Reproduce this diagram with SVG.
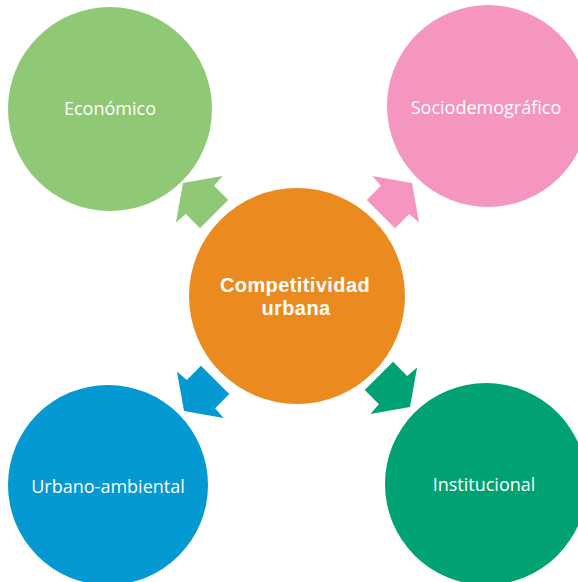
<svg xmlns="http://www.w3.org/2000/svg" width="578" height="582" viewBox="0 0 578 582">
<style>
.lbl{font-family:"Open Sans","Noto Sans",sans-serif;font-size:18px;fill:#fff;text-anchor:middle;dominant-baseline:central}
.ctr{font-family:"Liberation Sans",Arial,sans-serif;font-size:20px;font-weight:bold;letter-spacing:0.4px;fill:#fff;text-anchor:middle}
</style>
<defs>
<polygon id="arr" points="0,0 -23,-33 -24,-20 -44,-20 -44,20 -24,20 -23,33"/>
</defs>
<rect width="578" height="582" fill="#fff"/>
<g id="economico"><circle cx="110" cy="109" r="102" fill="#8fc975"/><text class="lbl" x="110" y="108">Económico</text></g>
<g id="sociodemografico"><circle cx="488" cy="106" r="101" fill="#f596c1"/><text class="lbl" x="486" y="107">Sociodemográfico</text></g>
<g id="urbano"><circle cx="108" cy="485" r="100" fill="#0499d2"/><text class="lbl" x="108" y="486">Urbano-ambiental</text></g>
<g id="institucional"><circle cx="486" cy="484" r="101" fill="#00a273"/><text class="lbl" x="484" y="484">Institucional</text></g>
<g id="connectors">
<use href="#arr" fill="#8fc975" transform="translate(183,183) rotate(-135)"/>
<use href="#arr" fill="#f596c1" transform="translate(412,183) rotate(-45)"/>
<use href="#arr" fill="#0499d2" transform="translate(184,411) rotate(135)"/>
<use href="#arr" fill="#00a273" transform="translate(410,407) rotate(45)"/>
</g>
<g id="centro"><circle cx="297" cy="296" r="108" fill="#ea8a1f"/><text class="ctr" x="295" y="292">Competitividad</text><text class="ctr" x="296" y="315">urbana</text></g>
</svg>
